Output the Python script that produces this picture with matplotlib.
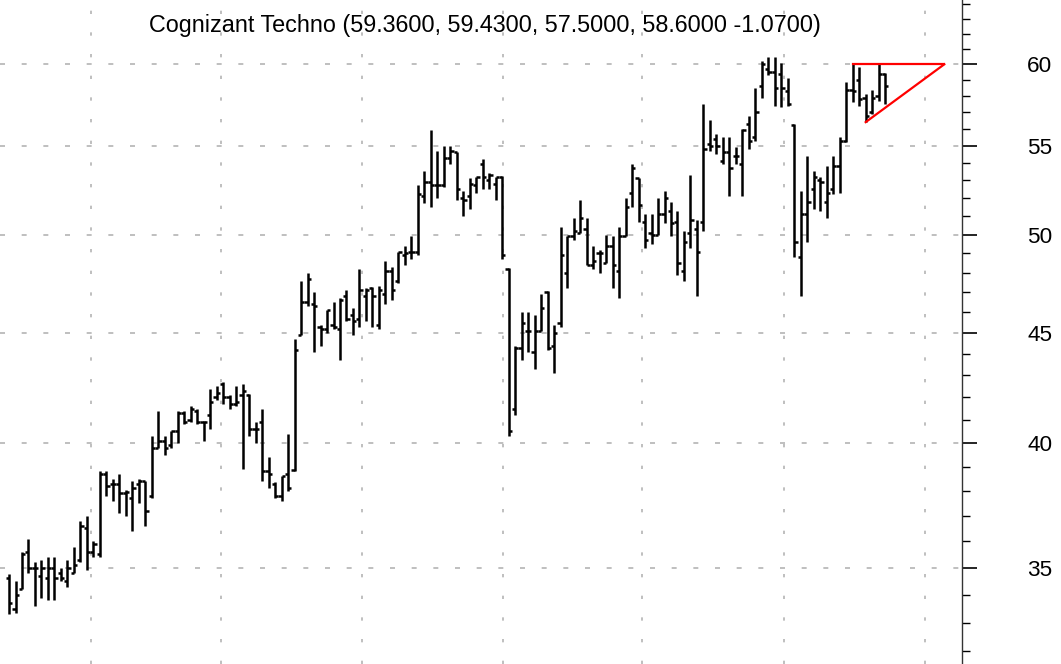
import matplotlib
matplotlib.use("Agg")
import matplotlib.pyplot as plt
from matplotlib.ticker import MultipleLocator, FormatStrFormatter, NullFormatter

plt.rcParams['font.family'] = ['Liberation Sans', 'DejaVu Sans']

# daily OHLC bars
opens = [34.6, 33.5, 34.2, 35.6, 35.0, 34.7, 34.6, 35.0, 34.8, 34.5,
         34.8, 35.3, 36.5, 35.6, 35.5, 38.7, 38.3, 38.3, 37.9, 37.7,
         38.3, 38.4, 37.8, 39.8, 40.1, 39.9, 40.5, 41.3, 41.0, 41.4,
         40.9, 41.2, 42.0, 42.6, 42.0, 41.7, 42.1, 42.1, 40.6, 40.9,
         38.8, 38.3, 37.8, 38.7, 38.85, 44.9, 46.5, 46.4, 45.3, 45.2,
         45.4, 45.2, 46.8, 45.9, 45.7, 46.8, 47.2, 45.4, 46.9, 48.1,
         47.6, 48.9, 49.1, 49.1, 52.1, 52.9, 52.7, 52.7, 54.3, 54.6,
         52.0, 52.1, 52.7, 53.9, 53.0, 52.8, 53.2, 48.2, 41.5, 44.3,
         45.1, 44.1, 45.1, 47.0, 44.4, 45.5, 48.0, 49.9, 50.1, 50.3,
         48.4, 49.0, 48.5, 49.4, 48.1, 49.9, 52.3, 53.1, 50.7, 50.1,
         50.0, 51.1, 51.3, 50.7, 48.1, 50.1, 50.3, 50.7, 55.1, 55.4,
         54.1, 54.6, 54.4, 53.9, 56.3, 55.5, 58.6, 59.7, 59.5, 59.4,
         58.3, 56.2, 48.8, 51.1, 52.5, 53.0, 51.8, 52.5, 53.8, 55.3,
         58.4, 59.0, 57.9, 57.0, 58.0, 59.36]
highs = [34.75, 34.5, 35.6, 36.1, 35.2, 35.3, 35.4, 35.4, 35.0, 35.3,
         35.8, 36.8, 37.0, 36.0, 38.8, 38.8, 38.5, 38.7, 38.05, 38.4,
         38.5, 38.4, 40.3, 41.4, 40.3, 40.5, 41.4, 41.4, 41.6, 41.5,
         40.95, 42.4, 42.5, 42.7, 42.1, 42.5, 42.6, 42.15, 40.9, 41.5,
         39.4, 38.35, 38.6, 40.4, 44.7, 47.6, 48.0, 47.0, 45.4, 46.1,
         46.5, 46.7, 47.1, 46.2, 48.2, 47.2, 47.25, 47.3, 48.6, 48.3,
         49.1, 49.4, 49.9, 52.7, 53.5, 55.9, 54.7, 55.0, 55.0, 54.65,
         52.4, 53.1, 53.2, 54.2, 53.4, 53.2, 53.25, 48.25, 44.4, 46.0,
         46.0, 45.9, 46.9, 47.05, 45.4, 50.4, 49.9, 50.9, 51.9, 50.9,
         49.4, 49.2, 50.0, 49.9, 50.4, 52.0, 53.9, 53.15, 51.1, 51.1,
         52.0, 52.4, 51.8, 51.3, 50.2, 53.3, 50.8, 57.5, 56.5, 55.7,
         55.5, 55.5, 54.9, 56.0, 56.8, 58.5, 60.2, 60.5, 60.5, 60.1,
         59.1, 56.3, 52.4, 54.4, 53.5, 53.2, 53.8, 54.4, 55.5, 58.9,
         60.0, 59.8, 58.1, 58.4, 60.0, 59.43]
lows = [33.3, 33.35, 34.2, 34.8, 33.6, 33.9, 33.8, 33.8, 34.5, 34.3,
        34.8, 35.2, 34.9, 35.4, 35.4, 37.8, 37.6, 37.1, 37.0, 36.4,
        37.5, 36.6, 37.7, 39.8, 39.5, 39.8, 40.0, 40.8, 40.9, 40.8,
        40.1, 40.6, 41.9, 41.7, 41.5, 41.6, 38.9, 40.3, 40.0, 38.4,
        38.1, 37.7, 37.6, 38.0, 38.8, 44.9, 46.3, 44.1, 44.4, 45.0,
        45.2, 43.7, 45.6, 44.9, 45.3, 45.6, 45.3, 45.2, 46.4, 46.6,
        47.5, 48.4, 48.7, 48.9, 51.7, 51.5, 52.0, 52.6, 53.9, 51.9,
        51.0, 51.4, 52.3, 52.5, 52.5, 51.9, 48.7, 40.3, 41.2, 43.7,
        44.1, 43.3, 45.1, 44.2, 43.1, 45.3, 47.2, 49.7, 50.1, 48.4,
        48.2, 48.0, 48.5, 47.2, 46.7, 49.9, 51.5, 50.7, 49.3, 49.5,
        50.0, 50.6, 49.9, 47.9, 47.6, 49.3, 46.8, 50.2, 54.7, 54.5,
        53.9, 52.1, 53.9, 52.1, 54.8, 55.3, 57.9, 59.3, 57.4, 57.3,
        57.4, 48.8, 46.8, 49.6, 51.4, 51.3, 50.9, 52.2, 52.3, 55.2,
        57.6, 57.4, 56.4, 56.9, 57.7, 57.5]
closes = [33.7, 34.0, 35.5, 35.0, 35.0, 35.0, 35.0, 34.6, 34.6, 35.0,
          35.1, 36.6, 35.6, 35.9, 38.7, 38.2, 38.3, 37.9, 37.95, 38.1,
          38.4, 37.2, 39.8, 40.1, 39.8, 40.5, 41.3, 40.9, 41.5, 40.9,
          40.9, 41.8, 42.2, 42.0, 41.7, 41.8, 42.3, 40.6, 40.6, 38.8,
          38.7, 37.8, 38.6, 38.1, 44.2, 46.5, 47.7, 46.3, 45.2, 46.1,
          45.3, 46.6, 45.7, 45.6, 47.1, 47.1, 46.8, 47.1, 48.1, 47.1,
          49.1, 49.0, 49.1, 52.2, 52.9, 52.7, 52.7, 54.3, 54.7, 52.5,
          51.9, 52.8, 53.2, 53.2, 53.3, 53.2, 48.9, 40.5, 44.3, 45.5,
          45.1, 45.1, 46.2, 44.3, 45.0, 48.9, 49.9, 50.2, 50.9, 48.4,
          48.6, 49.0, 49.4, 48.4, 49.9, 51.5, 53.7, 51.6, 49.7, 50.0,
          51.1, 52.0, 50.6, 48.5, 49.6, 50.8, 49.1, 54.8, 55.0, 55.0,
          54.6, 53.7, 54.4, 55.9, 55.3, 57.0, 60.0, 59.5, 58.5, 58.5,
          57.5, 49.6, 51.1, 51.8, 53.2, 52.9, 52.3, 53.8, 55.3, 58.4,
          58.3, 57.8, 56.8, 57.9, 59.4, 58.6]

# month boundaries (bar index) for the vertical grid
month_lines = [12.6, 32.7, 54.4, 76.1, 97.5, 119.4, 141.1]

# ascending triangle drawn on the chart
resist_x = [130, 144.1]
resist_y = [60.0, 60.0]
support_x = [132, 144.1]
support_y = [56.4, 60.0]

title = "Cognizant Techno (59.3600, 59.4300, 57.5000, 58.6000 -1.0700)"

fig = plt.figure(figsize=(10.61, 6.64), dpi=100)
ax = fig.add_axes([0, 0, 962 / 1061, 1])
ax.set_yscale('log')

x = list(range(len(opens)))
tick = 0.5
ax.vlines(x, lows, highs, color='black', lw=1.8, zorder=3)
ax.hlines(opens, [i - tick for i in x], x, color='black', lw=1.8, zorder=3)
ax.hlines(closes, x, [i + tick for i in x], color='black', lw=1.8, zorder=3)

ax.plot(resist_x, resist_y, color='#ff0000', lw=1.6, zorder=4)
ax.plot(support_x, support_y, color='#ff0000', lw=1.6, zorder=4)

ax.set_xlim(-1.39, 146.84)
ax.set_ylim(31.57, 64.28)

for s in ['left', 'top', 'bottom']:
    ax.spines[s].set_visible(False)
ax.spines['right'].set_color('#333333')
ax.spines['right'].set_linewidth(1.0)

ax.yaxis.tick_right()
ax.yaxis.set_major_locator(MultipleLocator(5))
ax.yaxis.set_minor_locator(MultipleLocator(1))
ax.yaxis.set_major_formatter(FormatStrFormatter('%d'))
ax.yaxis.set_minor_formatter(NullFormatter())
ax.tick_params(axis='y', which='major', direction='out', length=10.8, width=1.2,
               pad=36, labelsize=16.2, colors='black')
ax.tick_params(axis='y', which='minor', direction='out', length=5.8, width=1.0)

ax.set_xticks(month_lines)
ax.tick_params(axis='x', length=0, labelbottom=False)

ax.grid(axis='y', which='major', color='#b4b4b4', linestyle=(0, (3, 10)), lw=1.2)
ax.grid(axis='x', which='major', color='#b4b4b4', linestyle=(0, (2, 11)), lw=1.2)

fig.text(485 / 1061, 1 - 32 / 664, title, ha='center', va='baseline', fontsize=16.8)

fig.savefig('out.png', dpi=100)
